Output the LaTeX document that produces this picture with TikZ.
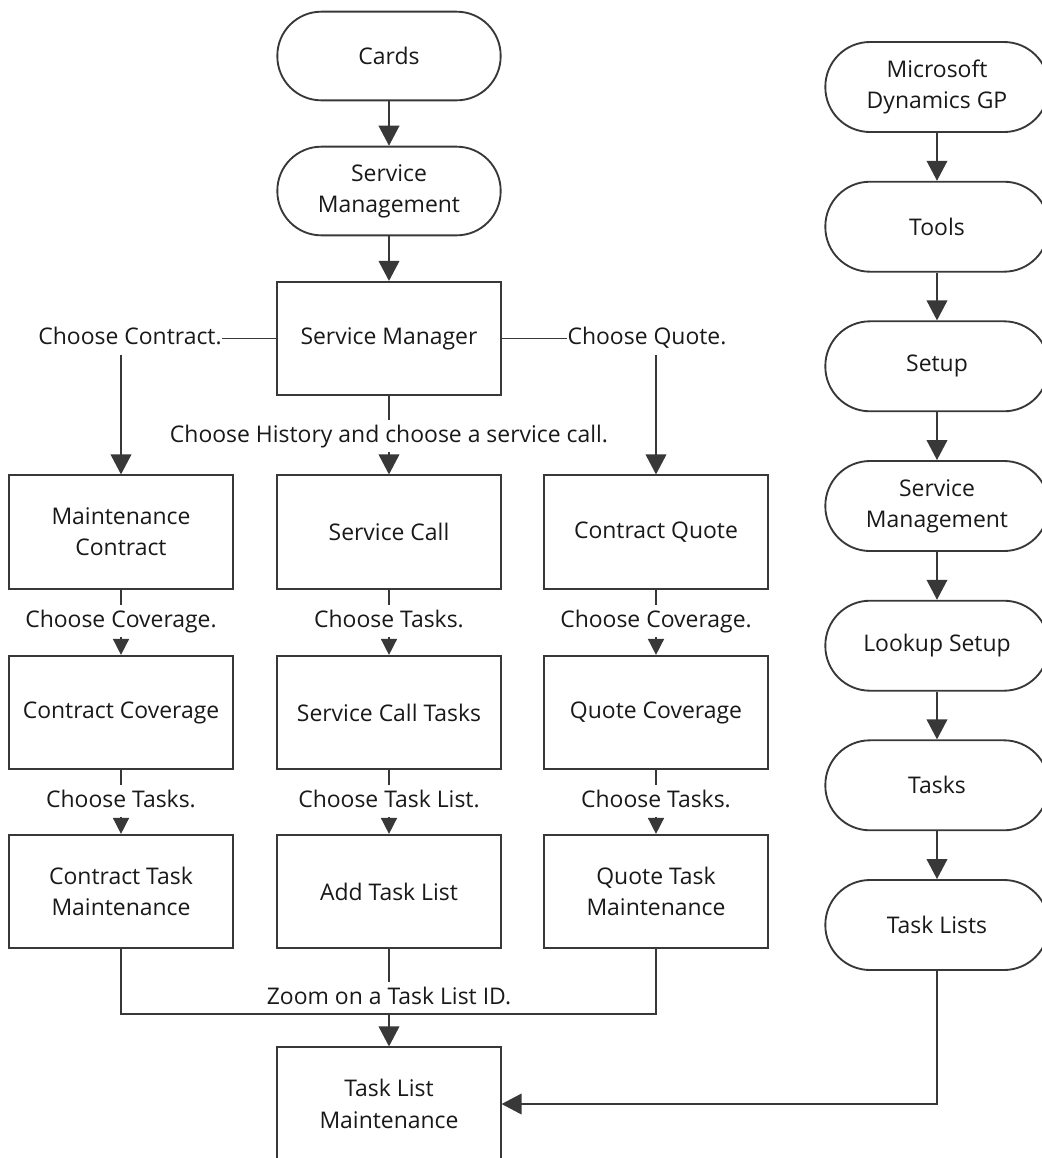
\documentclass[tikz,border=0pt]{standalone}
\usepackage{fontspec}
\setmainfont{Open Sans}
\usetikzlibrary{arrows.meta}
\begin{document}
\begin{tikzpicture}[x=0.75pt,y=-0.75pt,
  font=\fontsize{17.2pt}{23.5pt}\selectfont,
  base/.style={draw=black!78,line width=1.4pt,fill=white,minimum width=167.5pt,align=center,inner sep=2pt,text=black!90},
  stadium/.style={base,rounded corners=33pt,minimum height=66.5pt},
  rstadium/.style={base,rounded corners=33.5pt,minimum height=67.5pt},
  box/.style={base,minimum height=85pt},
  lbl/.style={inner xsep=0pt,inner ysep=3.5pt,text height=13pt,text depth=4pt,text=black!90},
  conn/.style={draw=black!78,line width=1.2pt},
  big/.style={conn,-{Triangle[width=15.5pt,length=15pt]}},
  small/.style={conn,-{Triangle[width=12pt,length=12pt]}}
]
\useasboundingbox (0,0) rectangle (1042,1158);
% left column
\node[stadium] (cards) at (389,56) {Cards};
\node[stadium] (sm1) at (389,191) {Service\\Management};
\node[box] (mgr) at (389,338.5) {Service Manager};
\node[box] (mc) at (121,532) {Maintenance\\Contract};
\node[box] (sc) at (389,532) {Service Call};
\node[box] (cq) at (656,532) {Contract Quote};
\node[box] (cc) at (121,712.5) {Contract Coverage};
\node[box] (sct) at (389,712.5) {Service Call Tasks};
\node[box] (qc) at (656,712.5) {Quote Coverage};
\node[box] (ctm) at (121,891.5) {Contract Task\\Maintenance};
\node[box] (atl) at (389,891.5) {Add Task List};
\node[box] (qtm) at (656,891.5) {Quote Task\\Maintenance};
\node[box] (tlm) at (389,1104) {Task List\\Maintenance};
% right column
\node[rstadium] (gp) at (937,87) {Microsoft\\Dynamics GP};
\node[rstadium] (tools) at (937,226.7) {Tools};
\node[rstadium] (setup) at (937,366.3) {Setup};
\node[rstadium] (sm2) at (937,506) {Service\\Management};
\node[rstadium] (lookup) at (937,645.7) {Lookup Setup};
\node[rstadium] (tasks) at (937,785.3) {Tasks};
\node[rstadium] (tl) at (937,925) {Task Lists};
% labels
\node[lbl] (lcontract) at (130,338.5) {Choose Contract.};
\node[lbl] (lquote) at (647,338.5) {Choose Quote.};
\node[lbl] (lhist) at (389,436) {Choose History and choose a service call.};
\node[lbl] (lcov1) at (121,621) {Choose Coverage.};
\node[lbl] (ltask1) at (389,621) {Choose Tasks.};
\node[lbl] (lcov2) at (656,621) {Choose Coverage.};
\node[lbl] (ltask2) at (121,801) {Choose Tasks.};
\node[lbl] (ltl) at (389,801) {Choose Task List.};
\node[lbl] (ltask3) at (656,801) {Choose Tasks.};
\node[lbl] (lzoom) at (389,998) {Zoom on a Task List ID.};
\coordinate (jl) at (121,1014);
\coordinate (jm) at (389,1014);
\coordinate (jr) at (656,1014);
% connectors
\draw[big] (cards) -- (sm1);
\draw[big] (sm1) -- (mgr);
\draw[conn] (mgr.west) -- (lcontract.east);
\draw[big] (mc.north |- lcontract.south) -- (mc.north);
\draw[conn] (mgr.east) -- (lquote.west);
\draw[big] (cq.north |- lquote.south) -- (cq.north);
\draw[conn] (mgr.south) -- (lhist.north);
\draw[big] (lhist.south) -- (sc.north);
\draw[conn] (mc.south) -- (lcov1.north);
\draw[small] (lcov1.south) -- (cc.north);
\draw[conn] (sc.south) -- (ltask1.north);
\draw[small] (ltask1.south) -- (sct.north);
\draw[conn] (cq.south) -- (lcov2.north);
\draw[small] (lcov2.south) -- (qc.north);
\draw[conn] (cc.south) -- (ltask2.north);
\draw[small] (ltask2.south) -- (ctm.north);
\draw[conn] (sct.south) -- (ltl.north);
\draw[small] (ltl.south) -- (atl.north);
\draw[conn] (qc.south) -- (ltask3.north);
\draw[small] (ltask3.south) -- (qtm.north);
\draw[conn] (ctm.south) -- (jl) -- (jr) -- (qtm.south);
\draw[conn] (atl.south) -- (lzoom.north);
\draw[big] (jm) -- (tlm.north);
\draw[big] (gp) -- (tools);
\draw[big] (tools) -- (setup);
\draw[big] (setup) -- (sm2);
\draw[big] (sm2) -- (lookup);
\draw[big] (lookup) -- (tasks);
\draw[big] (tasks) -- (tl);
\draw[big] (tl.south) |- (tlm.east);
\end{tikzpicture}
\end{document}
